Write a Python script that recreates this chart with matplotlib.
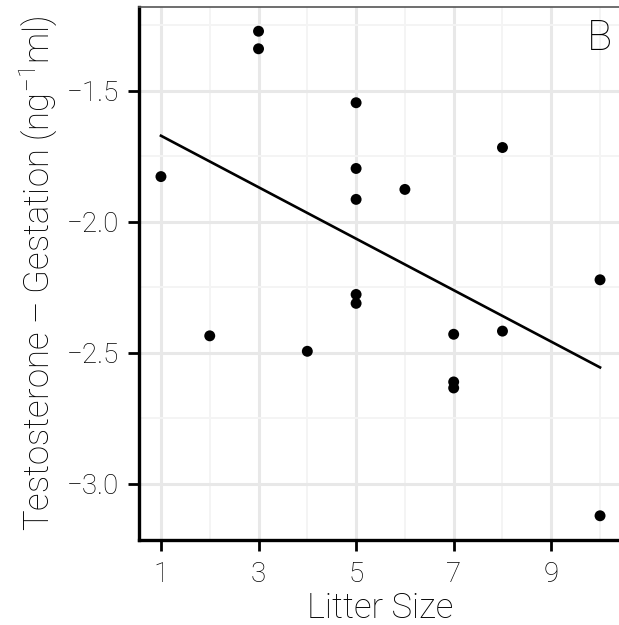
import numpy as np
import matplotlib
matplotlib.use("Agg")
import matplotlib.pyplot as plt
from matplotlib.ticker import MultipleLocator

# litter size vs gestation testosterone (log scale values)
litter_size = [1, 2, 3, 3, 4, 5, 5, 5, 5, 5, 6, 7, 7, 7, 8, 8, 10, 10]
testosterone = [-1.827, -2.435, -1.272, -1.339, -2.494, -1.545, -1.796, -1.914,
                -2.277, -2.311, -1.876, -2.429, -2.611, -2.634, -1.716, -2.417,
                -2.221, -3.122]
x_ticks = [1, 3, 5, 7, 9]
y_ticks = [-3.0, -2.5, -2.0, -1.5]
panel_label = "B"

plt.rcParams['font.family'] = ['Roboto', 'DejaVu Sans']
plt.rcParams['font.weight'] = 'light'
plt.rcParams['axes.labelweight'] = 'light'
plt.rcParams['mathtext.fontset'] = 'custom'
plt.rcParams['mathtext.rm'] = 'Roboto:light'
plt.rcParams['mathtext.it'] = 'Roboto:light'

fig = plt.figure(figsize=(6.19, 6.25), dpi=100)
ax = fig.add_axes([139 / 619, 85 / 625, 483 / 619, 533 / 625])

x = np.array(litter_size, dtype=float)
y = np.array(testosterone)

# ggplot style 5% expansion
def expand(v):
    lo, hi = v.min(), v.max()
    pad = (hi - lo) * 0.05
    return lo - pad, hi + pad

ax.set_xlim(*expand(x))
ax.set_ylim(*expand(y))

ax.set_xticks(x_ticks)
ax.set_yticks(y_ticks)
ax.xaxis.set_minor_locator(MultipleLocator(1))
ax.yaxis.set_minor_locator(MultipleLocator(0.25))
ax.grid(which='major', color='#e8e8e8', linewidth=2.2)
ax.grid(which='minor', color='#f4f4f4', linewidth=1.4)
ax.set_axisbelow(True)

# fitted regression line
slope, intercept = np.polyfit(x, y, 1)
xs = np.array([x.min(), x.max()])
ax.plot(xs, intercept + slope * xs, color='black', linewidth=1.9, zorder=3)

ax.scatter(x, y, s=62, color='black', edgecolors='none', zorder=4)

for side in ['left', 'bottom']:
    ax.spines[side].set_linewidth(2.4)
    ax.spines[side].set_color('black')
ax.spines['top'].set_color('#555555')
ax.spines['top'].set_linewidth(1.2)
ax.spines['right'].set_visible(False)

ax.tick_params(which='major', length=8, width=2, color='black', labelsize=20)
ax.tick_params(which='minor', length=0)
ax.tick_params(axis='x', pad=7)
ax.tick_params(axis='y', pad=6)

ax.set_xlabel("Litter Size", fontsize=25, labelpad=3)
ax.set_ylabel("Testosterone \u2013 Gestation (ng$^{-1}$ml)", fontsize=25, labelpad=6)

fig.text(612 / 619, 1 - 38 / 625, panel_label, fontsize=30, ha='right', va='center')

fig.savefig("out.png", dpi=100)
